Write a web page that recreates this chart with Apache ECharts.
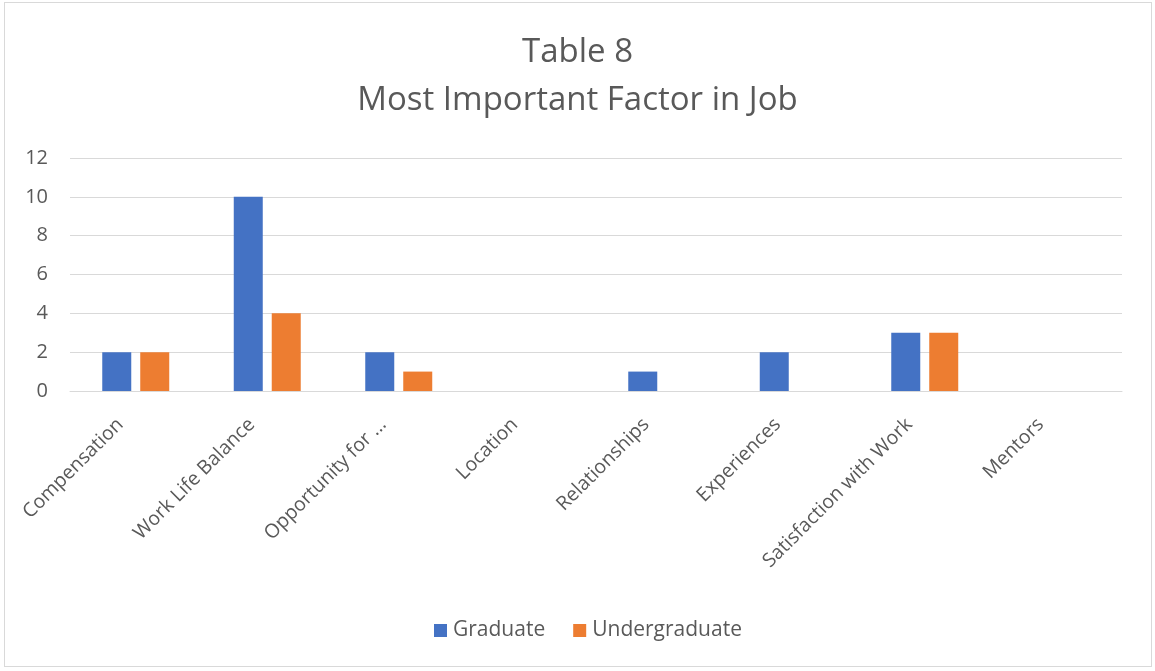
<!DOCTYPE html>
<html>
<head>
<meta charset="utf-8">
<script src="https://cdn.jsdelivr.net/npm/echarts@6/dist/echarts.min.js"></script>
<style>
html,body{margin:0;padding:0;background:#fff;}
#frame{position:absolute;left:4px;top:2px;width:1148px;height:665px;border:1px solid #d9d9d9;box-sizing:border-box;}
#chart{position:absolute;left:0;top:0;width:1155px;height:671px;}
</style>
</head>
<body>
<div id="frame"></div>
<div id="chart"></div>
<script>
const categories = ["Compensation","Work Life Balance","Opportunity for ...","Location","Relationships","Experiences","Satisfaction with Work","Mentors"];
const graduate = [2,10,2,null,1,2,3,null];
const undergraduate = [2,4,1,null,null,null,3,null];
const yTicks = {min:0,max:12,interval:2};

const font = "'Open Sans', 'Liberation Sans', sans-serif";
const chart = echarts.init(document.getElementById('chart'));
chart.setOption({
  animation:false,
  backgroundColor:'transparent',
  title:{
    text:'Table 8\nMost Important Factor in Job',
    left:'center', top:24,
    textStyle:{fontFamily:font,fontSize:33,fontWeight:'normal',color:'#595959',lineHeight:48}
  },
  legend:{
    bottom:30,left:434,
    itemWidth:13,itemHeight:13,itemGap:28,
    icon:'rect',
    padding:0,
    textStyle:{fontFamily:font,fontSize:21,color:'#595959',padding:[0,0,0,1]},
    data:['Graduate','Undergraduate']
  },
  grid:{left:70,right:33,top:158,bottom:280,containLabel:false},
  xAxis:{
    type:'category',data:categories,
    axisLine:{lineStyle:{color:'#d9d9d9',width:1}},
    axisTick:{show:false},
    axisLabel:{rotate:45,fontFamily:font,fontSize:19.5,color:'#595959',margin:15,interval:0,padding:[0,22,0,0]}
  },
  yAxis:{
    type:'value',min:yTicks.min,max:yTicks.max,interval:yTicks.interval,
    axisLine:{show:false},axisTick:{show:false},
    splitLine:{lineStyle:{color:'#d9d9d9',width:1}},
    axisLabel:{fontFamily:font,fontSize:20,color:'#595959',margin:22}
  },
  series:[
    {name:'Graduate',type:'bar',data:graduate,barWidth:29,barGap:'31%',itemStyle:{color:'#4472c4'}},
    {name:'Undergraduate',type:'bar',data:undergraduate,barWidth:29,itemStyle:{color:'#ed7d31'}}
  ]
});
</script>
</body>
</html>
